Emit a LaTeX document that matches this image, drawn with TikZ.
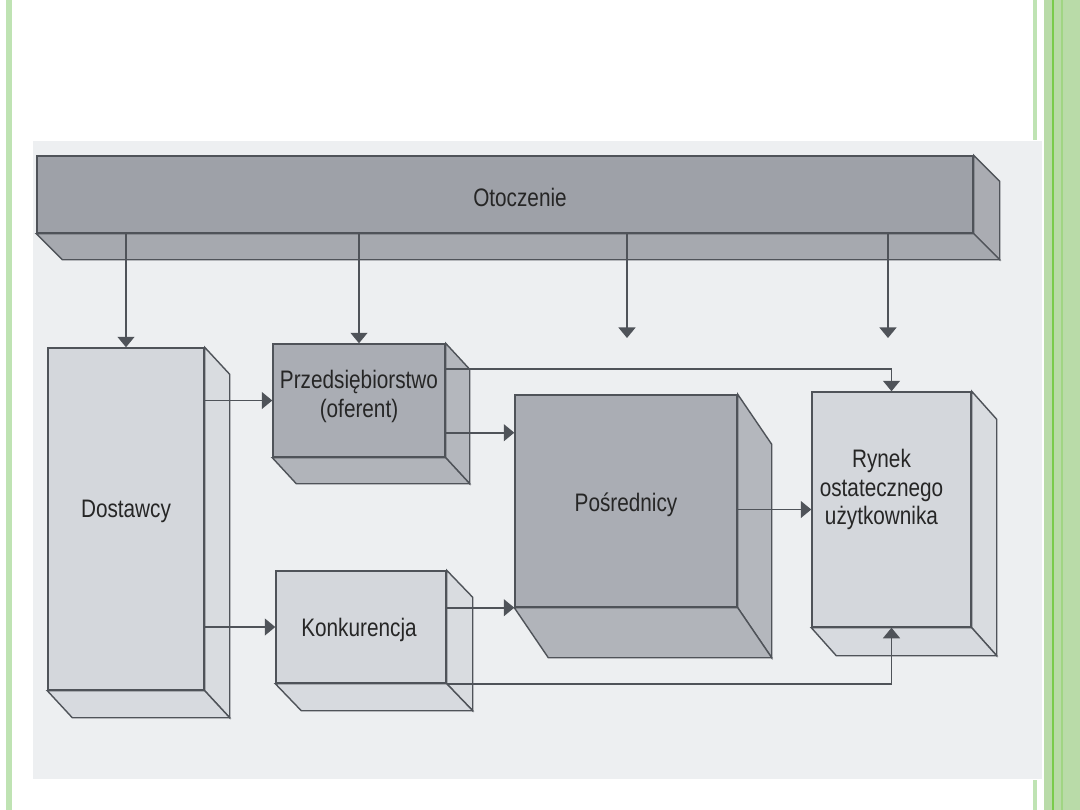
\documentclass[tikz,border=0pt]{standalone}
\usepackage{fontspec}
\setmainfont{Liberation Sans}[FakeStretch=0.82]
\usepackage{xcolor}
\usetikzlibrary{arrows.meta,positioning,fit,calc}

\definecolor{scanbg}{HTML}{EDEFF1}
\definecolor{edgegray}{HTML}{4F5359}
\definecolor{darkface}{HTML}{9EA1A8}
\definecolor{midface}{HTML}{AAADB4}
\definecolor{lightface}{HTML}{D4D7DC}
\definecolor{barlight}{HTML}{BFE3B3}
\definecolor{barwide}{HTML}{B9DBA8}
\definecolor{barline}{HTML}{7ACB4C}

% side and bottom faces of a box drawn behind its front node
\newcommand{\depthfaces}[4]{%
  \filldraw[faceline,fill=#4!88!white] (#1.north east) -- ++(#2,#3)
    -- ($(#1.south east)+(#2,#3)$) -- (#1.south east) -- cycle;
  \filldraw[faceline,fill=#4!92!white] (#1.south west) -- (#1.south east)
    -- ++(#2,#3) -- ($(#1.south west)+(#2,#3)$) -- cycle;}

\begin{document}
\begin{tikzpicture}[x=0.025cm,y=-0.025cm,
    faceline/.style={draw=edgegray,line width=1pt},
    front/.style={faceline,inner sep=0pt},
    lbl/.style={align=center,text=black!85,inner sep=0pt,
      font=\fontsize{18}{20}\selectfont},
    arr/.style={draw=edgegray,line width=1.3pt,-{Triangle[width=12pt,length=7.5pt]}}]
  \useasboundingbox (0,0) rectangle (1080,810);
  \fill[white] (0,0) rectangle (1080,810);
  \fill[scanbg] (33,141) rectangle (1042,779);
  \fill[barlight] (6,0) rectangle (12,810);
  \fill[barlight] (1033,0) rectangle (1037,140);
  \fill[barlight] (1033,780) rectangle (1037,810);
  \fill[barwide] (1044,0) rectangle (1080,810);
  \fill[barline] (1052,0) rectangle (1054,810);
  \fill[barline!40!barwide] (1061,0) rectangle (1063,810);

  % boxes
  \node[front,fill=darkface,fit={(37,156) (973,233)}] (ot) {};
  \node[front,fill=lightface,fit={(48,348) (204,690)}] (dos) {};
  \node[front,fill=midface,fit={(273,344) (445,457)}] (prz) {};
  \node[front,fill=lightface,fit={(276,571) (446,683)}] (kon) {};
  \node[front,fill=midface,fit={(515,395) (737,607)}] (pos) {};
  \node[front,fill=lightface,fit={(812,392) (971,627)}] (ryn) {};

  \depthfaces{ot}{26}{26}{darkface}
  \depthfaces{dos}{25}{27}{lightface}
  \depthfaces{prz}{24}{26}{midface}
  \depthfaces{kon}{26}{27}{lightface}
  \depthfaces{pos}{34}{50}{midface}
  \depthfaces{ryn}{25}{28}{lightface}

  % texts
  \node[lbl] (ot-t) at ($(ot.center)+(15,3)$) {Otoczenie};
  \node[lbl] (dos-t) at ($(dos.center)+(0,-8)$) {Dostawcy};
  \node[lbl] (prz-t) at ($(prz.center)+(0,-4)$) {Przedsiębiorstwo\\(oferent)};
  \node[lbl] (kon-t) at ($(kon.center)+(-2,3)$) {Konkurencja};
  \node[lbl] (pos-t) at ($(pos.center)+(0,4)$) {Pośrednicy};
  \node[lbl] (ryn-t) at ($(ryn.center)+(-10,-20)$) {Rynek\\ostatecznego\\użytkownika};

  % connectors
  \coordinate (f1) at (627,338);
  \coordinate (f2) at (888,338);
  \coordinate (p1) at ($(prz.north east)+(0,26)$);
  \coordinate (p2) at ($(prz.south east)+(0,-25)$);
  \draw[arr] (ot.south -| dos.north) -- (dos.north);
  \draw[arr] (ot.south -| prz.north) -- (prz.north);
  \draw[arr] (ot.south -| f1) -- (f1);
  \draw[arr] (ot.south -| f2) -- (f2);
  \draw[arr] (dos.east |- prz.west) -- (prz.west);
  \draw[arr] (dos.east |- kon.west) -- (kon.west);
  \draw[arr] (p1) -| (ryn.north);
  \draw[arr] (p2) -- (p2 -| pos.west);
  \draw[arr] (kon.east |- pos.south west) -- (pos.south west);
  \draw[arr] (kon.south east) -| (ryn.south);
  \draw[arr] (pos.east |- ryn.west) -- (ryn.west);
\end{tikzpicture}
\end{document}
